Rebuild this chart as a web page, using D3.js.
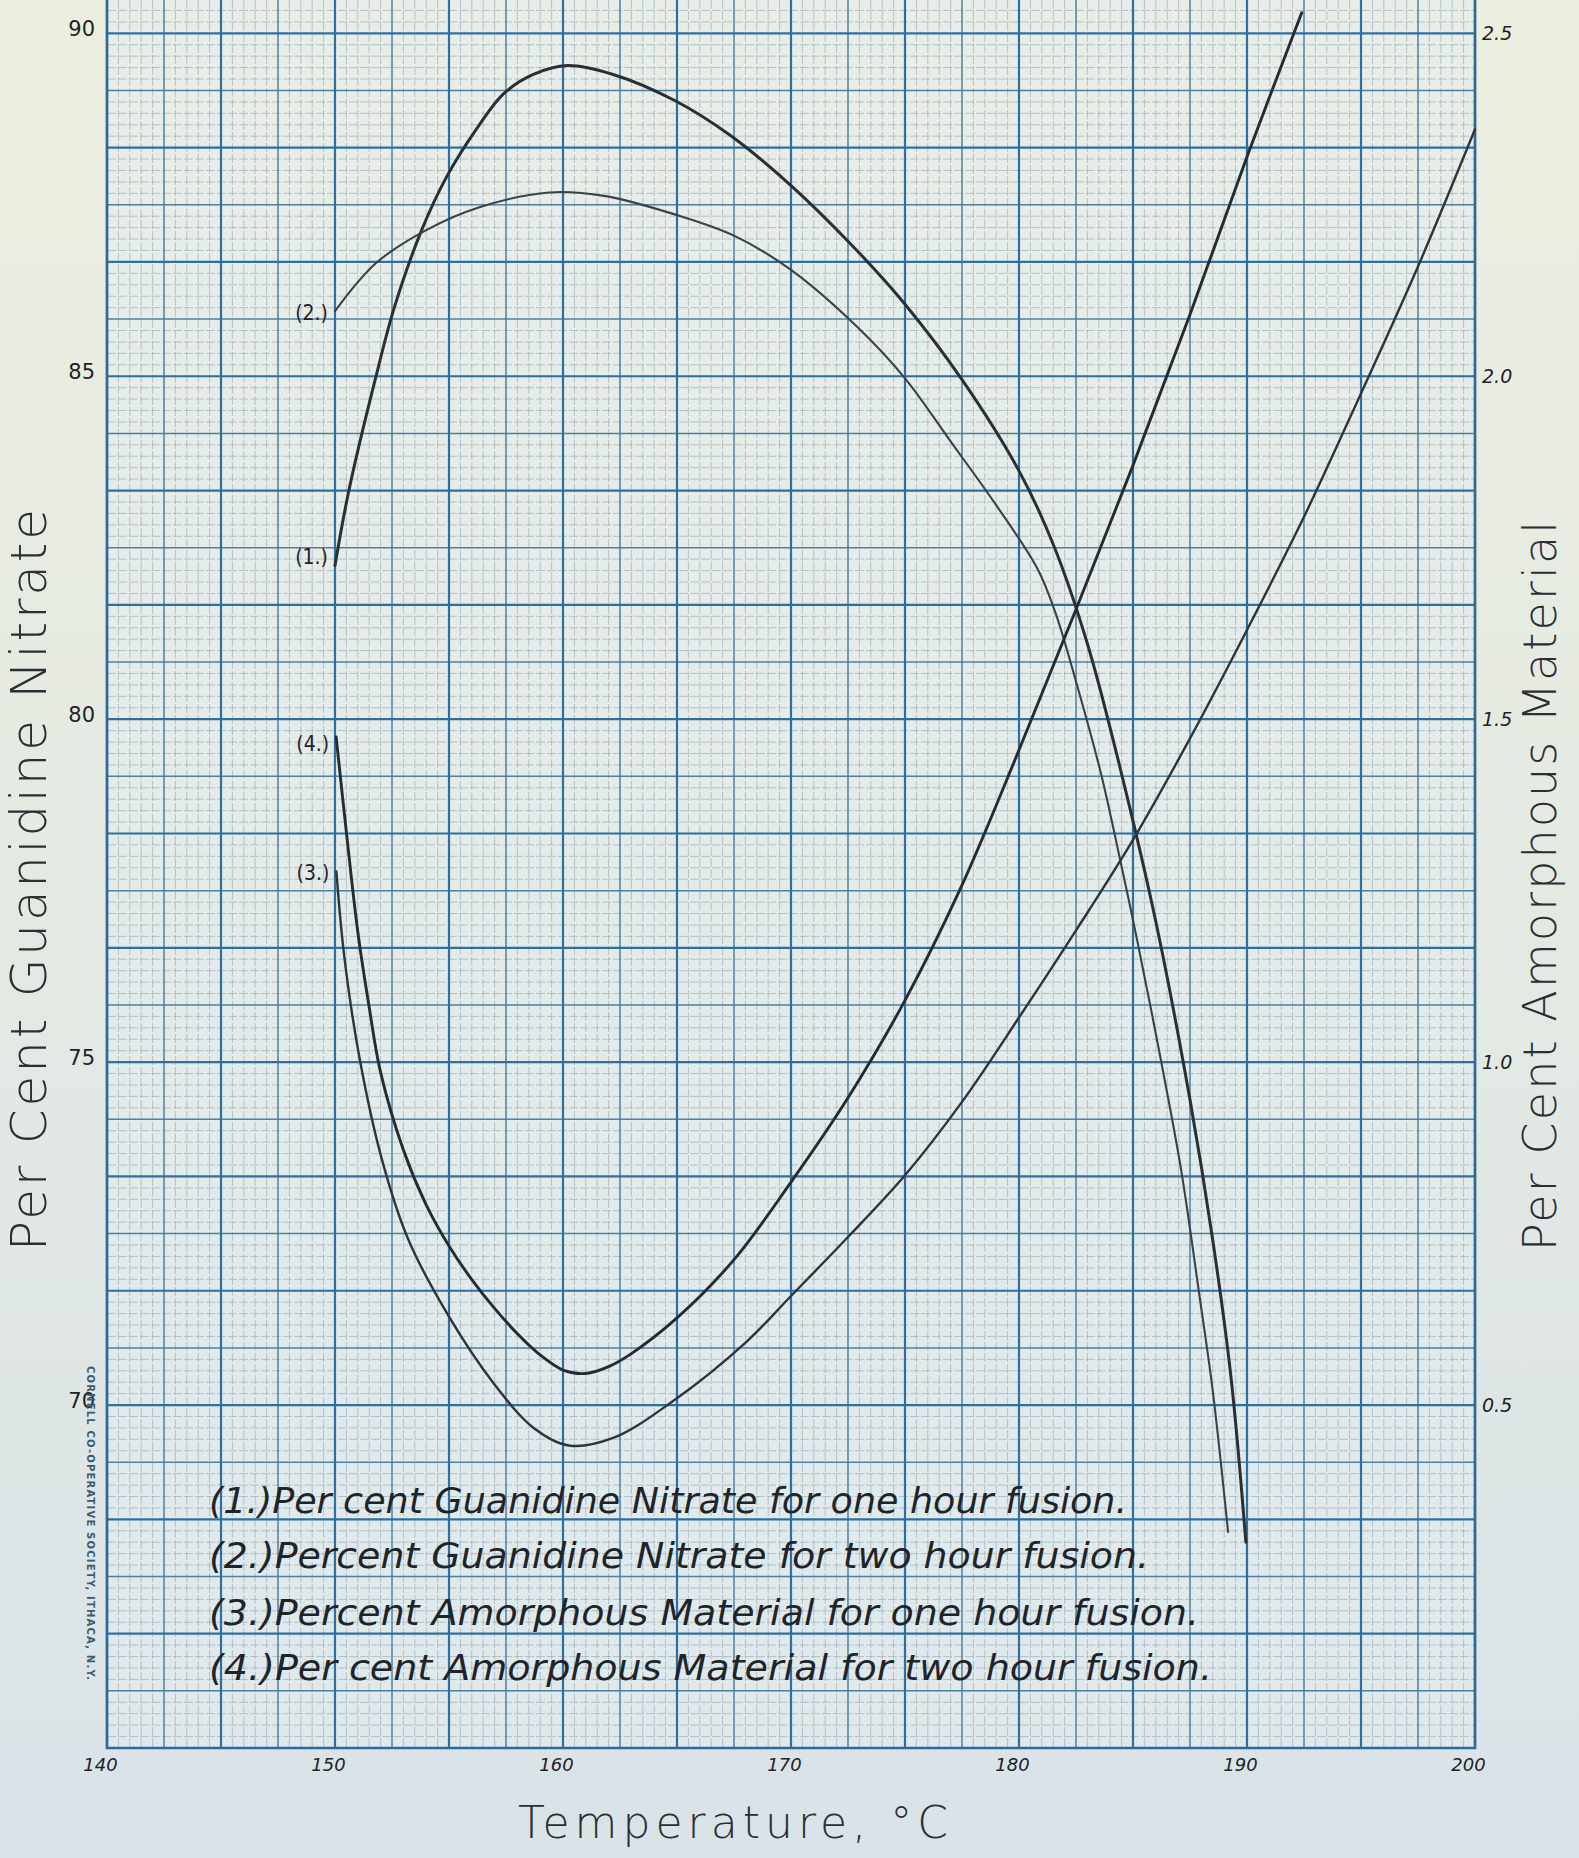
<!DOCTYPE html>
<html>
<head>
<meta charset="utf-8">
<script src="https://cdn.jsdelivr.net/npm/d3@7"></script>
<style>
  html, body { margin: 0; padding: 0; background: #e4e9e2; }
  svg { display: block; }
</style>
</head>
<body>
<svg id="chart" width="1579" height="1858"></svg>
<script>
// ---------------- DATA ----------------
// (1) Percent Guanidine Nitrate, one hour fusion (left axis, %)
const temps1 = [150, 150.6, 151.8, 152.6, 153.8, 154.9, 156.3, 157.4, 158.7, 160.2, 162.2, 164.9, 167.3, 170, 172.9, 175, 177.5, 180, 181.5, 183, 184.5, 186, 187.5, 188.5, 189.3, 189.95];
const gn1hr  = [82.24, 83.32, 85.0, 86.0, 87.13, 87.91, 88.65, 89.12, 89.40, 89.53, 89.40, 89.02, 88.52, 87.78, 86.83, 86.05, 84.95, 83.62, 82.55, 81.1, 79.2, 77.05, 74.45, 72.4, 70.4, 68.0];

// (2) Percent Guanidine Nitrate, two hour fusion (left axis, %)
const temps2 = [150, 151.8, 154, 156.3, 159.4, 161.8, 164.9, 167.5, 170, 172.9, 175, 177, 179, 180.8, 181.6, 182.5, 183.6, 184.5, 185.2, 186.2, 187.1, 187.9, 188.5, 189.17];
const gn2hr  = [85.95, 86.65, 87.13, 87.46, 87.68, 87.63, 87.36, 87.05, 86.55, 85.72, 84.97, 84.05, 83.12, 82.2, 81.55, 80.55, 79.2, 77.85, 76.75, 75.07, 73.45, 71.63, 70.2, 68.15];

// (3) Percent Amorphous Material, one hour fusion (right axis, %)
const temps3 = [150.06, 150.4, 151.07, 152.05, 153.22, 154.98, 156.93, 158.7, 160.25, 162.2, 164.75, 168.07, 170, 172.5, 175, 177.5, 180, 182.5, 185, 187.5, 190, 192.5, 195, 197.5, 200];
const am1hr  = [1.278, 1.156, 1.007, 0.859, 0.741, 0.630, 0.533, 0.467, 0.441, 0.452, 0.504, 0.593, 0.659, 0.745, 0.835, 0.942, 1.065, 1.192, 1.324, 1.472, 1.63, 1.795, 1.975, 2.16, 2.36];

// (4) Percent Amorphous Material, two hour fusion (right axis, %)
const temps4 = [150.05, 150.5, 151, 151.5, 152, 153, 154, 155, 156, 157, 158, 159, 160, 161, 162, 163, 165, 167.5, 170, 172.5, 175, 177.5, 180, 182.5, 185, 187.5, 190, 192.4];
const am2hr  = [1.474, 1.335, 1.19, 1.08, 0.985, 0.872, 0.792, 0.732, 0.683, 0.641, 0.604, 0.573, 0.551, 0.546, 0.556, 0.575, 0.627, 0.712, 0.825, 0.948, 1.09, 1.258, 1.455, 1.66, 1.87, 2.09, 2.32, 2.53];

const xTicks     = [140, 150, 160, 170, 180, 190, 200];
const leftTicks  = [70, 75, 80, 85, 90];
const rightTicks = [0.5, 1.0, 1.5, 2.0, 2.5];
const rightTickLabels = ["0.5", "1.0", "1.5", "2.0", "2.5"];
const curveLabels = ["(1.)", "(2.)", "(3.)", "(4.)"];
const legendLines = [
  "(1.)Per cent Guanidine Nitrate for one hour fusion.",
  "(2.)Percent Guanidine Nitrate for two hour fusion.",
  "(3.)Percent Amorphous Material for one hour fusion.",
  "(4.)Per cent Amorphous Material for two hour fusion."
];
const leftTitle = "Per Cent Guanidine Nitrate";
const rightTitle = "Per Cent Amorphous Material";
const xTitle = "Temperature, °C";
const imprint = "CORNELL CO-OPERATIVE SOCIETY, ITHACA, N.Y.";

// ---------------- LAYOUT ----------------
const W = 1579, H = 1858;
const X0 = 107, X1 = 1475, YB = 1748, Y90 = 33.3;
const svg = d3.select("#chart");

const x  = d3.scaleLinear().domain([140, 200]).range([X0, X1]);
const yL = d3.scaleLinear().domain([65, 90]).range([YB, Y90]);
const yR = d3.scaleLinear().domain([0, 2.5]).range([YB, Y90]);

// background
const defs = svg.append("defs");
const bg = defs.append("linearGradient").attr("id", "bg").attr("x1", 0).attr("y1", 0).attr("x2", 0).attr("y2", 1);
bg.append("stop").attr("offset", "0%").attr("stop-color", "#eceedf");
bg.append("stop").attr("offset", "55%").attr("stop-color", "#e3e9e3");
bg.append("stop").attr("offset", "100%").attr("stop-color", "#d9e3e8");
const pg = defs.append("linearGradient").attr("id", "pg").attr("x1", 0).attr("y1", 0).attr("x2", 0).attr("y2", 1);
pg.append("stop").attr("offset", "0%").attr("stop-color", "#e8ede7");
pg.append("stop").attr("offset", "100%").attr("stop-color", "#dfe9ec");

svg.append("rect").attr("width", W).attr("height", H).attr("fill", "url(#bg)");
svg.append("rect").attr("x", X0).attr("y", 0).attr("width", X1 - X0).attr("height", YB)
  .attr("fill", "url(#pg)");

// ---------------- GRID ----------------
const grid = svg.append("g");
const vSteps = d3.range(0, 121);              // every 0.5 °C
const hSteps = d3.range(0, 153);              // every 1/6 unit
function lvl(k) { return k % 10 === 0 ? 2 : (k % 5 === 0 ? 1 : 0); }
const styles = [
  { stroke: "#93a8b2", w: 1, op: 0.6, dash: "9,2" },
  { stroke: "#4a7b9b", w: 1.5, op: 0.95, dash: null },
  { stroke: "#2f6f9f", w: 2.2, op: 1, dash: null }
];
[0, 1, 2].forEach(level => {
  const s = styles[level];
  grid.selectAll(null).data(vSteps.filter(k => lvl(k) === level)).enter().append("line")
    .attr("x1", k => x(140 + k * 0.5)).attr("x2", k => x(140 + k * 0.5))
    .attr("y1", 0).attr("y2", YB)
    .attr("stroke", s.stroke).attr("stroke-width", s.w).attr("opacity", s.op)
    .attr("stroke-dasharray", s.dash);
  grid.selectAll(null).data(hSteps.filter(k => lvl(k) === level)).enter().append("line")
    .attr("y1", k => yL(65 + k / 6)).attr("y2", k => yL(65 + k / 6))
    .attr("x1", X0).attr("x2", X1)
    .attr("stroke", s.stroke).attr("stroke-width", s.w).attr("opacity", s.op)
    .attr("stroke-dasharray", s.dash);
});
// border
grid.append("path")
  .attr("d", `M${X0},0V${YB}H${X1}V0`)
  .attr("fill", "none").attr("stroke", "#2c6a98").attr("stroke-width", 2.6);

// ---------------- CURVES ----------------
const lineL = d3.line().x(d => x(d[0])).y(d => yL(d[1])).curve(d3.curveCatmullRom.alpha(0.5));
const lineR = d3.line().x(d => x(d[0])).y(d => yR(d[1])).curve(d3.curveCatmullRom.alpha(0.5));
const series = [
  { d: d3.zip(temps1, gn1hr), line: lineL, w: 3.0, c: "#2a2f35" },
  { d: d3.zip(temps2, gn2hr), line: lineL, w: 2.1, c: "#3a4148" },
  { d: d3.zip(temps3, am1hr), line: lineR, w: 2.4, c: "#2e343a" },
  { d: d3.zip(temps4, am2hr), line: lineR, w: 2.9, c: "#262b31" }
];
const cg = svg.append("g");
series.forEach(s => {
  cg.append("path").attr("d", s.line(s.d)).attr("fill", "none")
    .attr("stroke", s.c).attr("stroke-width", s.w)
    .attr("stroke-linecap", "round").attr("stroke-linejoin", "round");
});

// curve labels at starting points
const labelPos = [
  { t: temps1[0], y: yL(gn1hr[0]) },
  { t: temps2[0], y: yL(gn2hr[0]) },
  { t: temps3[0], y: yR(am1hr[0]) },
  { t: temps4[0], y: yR(am2hr[0]) }
];
svg.append("g").selectAll("text").data(curveLabels).enter().append("text")
  .attr("x", (d, i) => x(labelPos[i].t) - 7)
  .attr("y", (d, i) => labelPos[i].y + (i === 0 ? -8 : (i === 3 ? 8 : 3)))
  .attr("text-anchor", "end").attr("dominant-baseline", "middle")
  .attr("font-family", "DejaVu Sans Condensed, DejaVu Sans, sans-serif")
  .attr("font-size", 21).attr("fill", "#1f2328")
  .text(d => d);

// ---------------- AXES ----------------
const axFont = "DejaVu Sans, sans-serif";
const axL = d3.axisLeft(yL).tickValues(leftTicks).tickSize(0).tickPadding(12).tickFormat(d3.format("d"));
const gL = svg.append("g").attr("transform", `translate(${X0},0)`).call(axL);
const axR = d3.axisRight(yR).tickValues(rightTicks).tickSize(0).tickPadding(7)
  .tickFormat((d, i) => rightTickLabels[i]);
const gR = svg.append("g").attr("transform", `translate(${X1},0)`).call(axR);
const axB = d3.axisBottom(x).tickValues(xTicks).tickSize(0).tickPadding(10).tickFormat(d3.format("d"));
const gB = svg.append("g").attr("transform", `translate(0,${YB})`).call(axB);
[gL, gR, gB].forEach(g => {
  g.select(".domain").remove();
  g.selectAll("text").attr("font-family", axFont).attr("fill", "#1f2327");
});
gL.selectAll("text").attr("font-size", 21).attr("dy", "0.1em");
gR.selectAll("text").attr("font-size", 19).attr("font-style", "italic");
gB.selectAll("text").attr("font-size", 18).attr("font-style", "italic").attr("dx", -7);

// ---------------- TITLES ----------------
const titleFont = "DejaVu Sans, sans-serif";
svg.append("text")
  .attr("transform", "translate(46,880) rotate(-90)")
  .attr("text-anchor", "middle")
  .attr("font-family", titleFont).attr("font-weight", 200)
  .attr("font-size", 50).attr("fill", "#2a2f34")
  .attr("textLength", 742).attr("lengthAdjust", "spacing")
  .text(leftTitle);
svg.append("text")
  .attr("transform", "translate(1556,886) rotate(-90)")
  .attr("text-anchor", "middle")
  .attr("font-family", titleFont).attr("font-weight", 200)
  .attr("font-size", 46).attr("fill", "#2a2f34")
  .attr("textLength", 730).attr("lengthAdjust", "spacing")
  .text(rightTitle);
svg.append("text")
  .attr("x", 733).attr("y", 1838)
  .attr("text-anchor", "middle")
  .attr("font-family", titleFont).attr("font-weight", 200)
  .attr("font-size", 44).attr("fill", "#2a2f34")
  .attr("textLength", 430).attr("lengthAdjust", "spacing")
  .text(xTitle);

// ---------------- LEGEND ----------------
const legendBase = [1513, 1568, 1625, 1680];
const legendLen  = [918, 940, 990, 1003];
svg.append("g").selectAll("text").data(legendLines).enter().append("text")
  .attr("x", 209).attr("y", (d, i) => legendBase[i])
  .attr("font-family", "DejaVu Sans Condensed, DejaVu Sans, sans-serif")
  .attr("font-style", "oblique")
  .attr("font-size", 36).attr("fill", "#1f2429")
  .attr("textLength", (d, i) => legendLen[i]).attr("lengthAdjust", "spacingAndGlyphs")
  .text(d => d);

// imprint along left edge
svg.append("text")
  .attr("transform", "translate(87,1366) rotate(90)")
  .attr("font-family", "DejaVu Sans, sans-serif").attr("font-weight", "bold")
  .attr("font-size", 10).attr("fill", "#3e5a6e")
  .attr("textLength", 314).attr("lengthAdjust", "spacing")
  .text(imprint);
</script>
</body>
</html>
